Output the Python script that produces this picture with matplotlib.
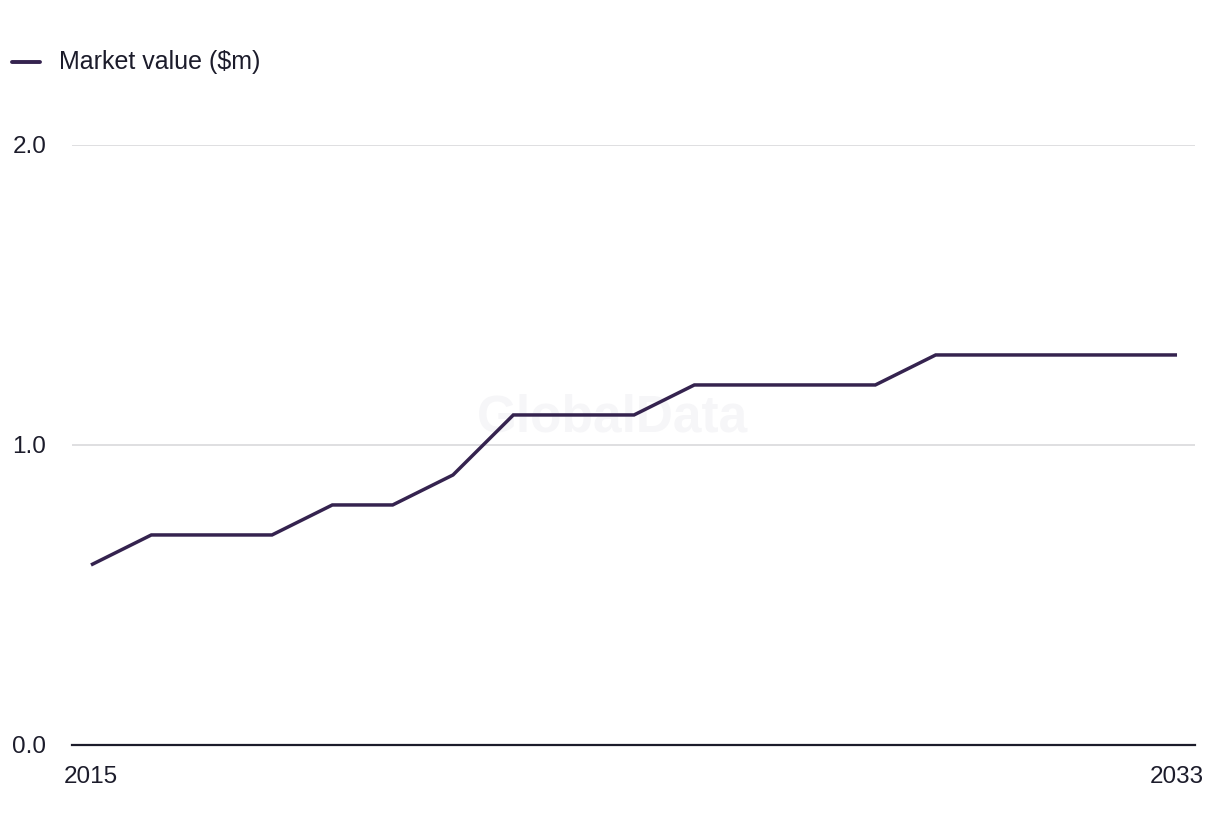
import matplotlib
matplotlib.use("Agg")
import matplotlib.pyplot as plt
from matplotlib.lines import Line2D

years = list(range(2015, 2034))
market_value = [0.6, 0.7, 0.7, 0.7, 0.8, 0.8, 0.9, 1.1, 1.1, 1.1,
                1.2, 1.2, 1.2, 1.2, 1.3, 1.3, 1.3, 1.3, 1.3]
series_label = "Market value ($m)"
y_ticks = [0.0, 1.0, 2.0]
x_ticks = [2015, 2033]

plt.rcParams['font.family'] = ['Liberation Sans', 'DejaVu Sans']
line_color = "#35234f"
text_color = "#1c1c2b"

fig = plt.figure(figsize=(12.2, 8.36), dpi=100)
ax = fig.add_axes([0.059, 0.1089, 0.9205, 0.7177])
ax.plot(years, market_value, color=line_color, lw=2.5, solid_joinstyle='miter',
        solid_capstyle='butt', zorder=3)
ax.set_xlim(2014.685, 2033.298)
ax.set_ylim(0, 2.0)

for y in y_ticks[1:]:
    ax.axhline(y, color="#d9d9dc", lw=1.2, zorder=1)
for s in ["top", "right", "left"]:
    ax.spines[s].set_visible(False)
ax.spines["bottom"].set_color(text_color)
ax.spines["bottom"].set_linewidth(1.6)

ax.set_yticks(y_ticks)
ax.set_yticklabels([f"{v:.1f}" for v in y_ticks])
ax.set_xticks(x_ticks)
ax.set_xticklabels([str(v) for v in x_ticks])
ax.tick_params(axis='both', length=0, labelsize=17.5, colors=text_color)
ax.tick_params(axis='x', pad=15)
for lbl in ax.get_yticklabels():
    lbl.set_horizontalalignment('left')
ax.tick_params(axis='y', pad=43)

ax.text(0.481, 0.545, "GlobalData", transform=ax.transAxes, ha='center', va='center',
        fontsize=37, fontweight='bold', color="#f6f6f8", zorder=0)

# legend drawn in figure coordinates
fig.add_artist(Line2D([12 / 1220, 40 / 1220], [1 - 62 / 836, 1 - 62 / 836],
                      color=line_color, lw=2.8, solid_capstyle='round',
                      transform=fig.transFigure))
fig.text(59 / 1220, 1 - 62 / 836, series_label, ha='left', va='center',
         fontsize=18, color=text_color)

fig.savefig("out.png", dpi=100, facecolor="white")
